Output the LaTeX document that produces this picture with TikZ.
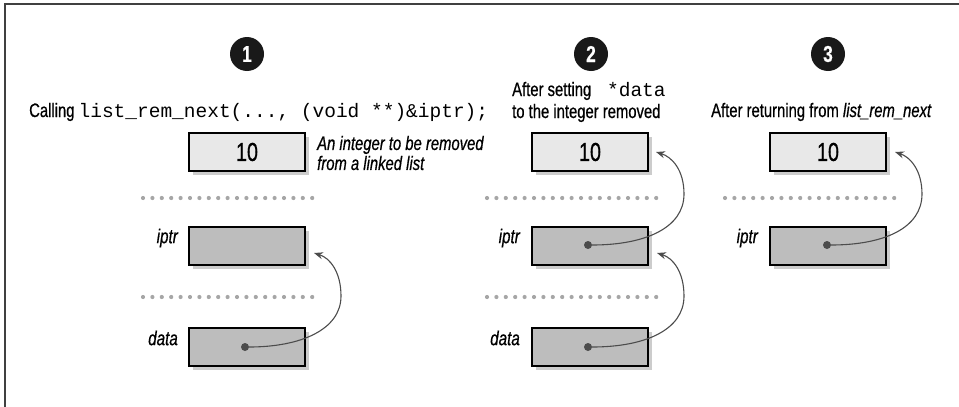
\documentclass[tikz,border=0pt]{standalone}
\usepackage{fontspec}
\setmainfont{Liberation Sans}[FakeStretch=0.76,FakeBold=0.6]
\setmonofont{Liberation Mono}
\usetikzlibrary{arrows.meta,shadows}
\begin{document}
\begin{tikzpicture}[x=1pt,y=-1pt,
  boxbase/.style={draw=black,line width=2.4pt,minimum width=116pt,minimum height=38pt,inner sep=0pt,
    drop shadow={shadow xshift=4pt,shadow yshift=-4pt,fill=black!20,opacity=1}},
  valbox/.style={boxbase,fill=black!9,font=\fontsize{26}{26}\selectfont},
  ptrbox/.style={boxbase,fill=black!26},
  seprow/.style={fill=black!35},
  lbl/.style={font=\fontsize{20}{22}\selectfont\itshape,anchor=east,inner sep=0pt},
  captxt/.style={font=\fontsize{19.5}{22}\selectfont,anchor=base west,align=left,inner sep=0pt},
  notetxt/.style={font=\fontsize{19.5}{20}\selectfont\itshape,anchor=west,align=left,inner sep=0pt},
  num/.style={circle,fill=black!90,minimum size=34pt,inner sep=0pt,text=white,font=\fontsize{23}{23}\selectfont\bfseries},
  link/.style={draw=black!70,line width=1.1pt,-{Stealth[length=9pt,width=7pt]}},
  pdot/.style={circle,fill=black!70,minimum size=8pt,inner sep=0pt}
]
\useasboundingbox (0,0) rectangle (959,407);
% frame
\draw[line width=1.5pt,black!75] (5,407) -- (5,4) -- (959,4);

% step numbers
\node[num] (n1) at (247,54) {1};
\node[num] (n2) at (591,54) {2};
\node[num] (n3) at (828,54) {3};

% captions
\node[captxt] (c1) at (29,117) {Calling \texttt{list\_rem\_next(..., (void **)\&iptr);}};
\node[captxt] (c2) at (512,118) {After setting \texttt{ *data}\\to the integer removed};
\node[captxt] (c3) at (711,117) {After returning from \textit{list\_rem\_next}};
\node[notetxt] (nt) at (317,153) {An integer to be removed\\from a linked list};

% separators
\foreach \x in {143,487,725}{
  \foreach \i in {0,...,18}{
    \fill[seprow] (\x+\i*9.4,198) circle (2.1);
  }
}
\foreach \x in {143,487}{
  \foreach \i in {0,...,18}{
    \fill[seprow] (\x+\i*9.4,297) circle (2.1);
  }
}

% panel 1
\node[valbox] (v1) at (247,152) {10};
\node[ptrbox] (p1) at (247,246) {};
\node[ptrbox] (q1) at (247,347) {};
\node[lbl] (lp1) at (178,238) {iptr};
\node[lbl] (lq1) at (178,338) {data};

% panel 2
\node[valbox] (v2) at (590,152) {10};
\node[ptrbox] (p2) at (590,246) {};
\node[ptrbox] (q2) at (590,347) {};
\node[lbl] (lp2) at (520,238) {iptr};
\node[lbl] (lq2) at (520,338) {data};

% panel 3
\node[valbox] (v3) at (828,152) {10};
\node[ptrbox] (p3) at (828,246) {};
\node[lbl] (lp3) at (758,238) {iptr};

% pointer dots
\node[pdot] (dq1) at (245,347) {};
\node[pdot] (dp2) at (588,245) {};
\node[pdot] (dq2) at (588,347) {};
\node[pdot] (dp3) at (827,245) {};

% arrow targets
\coordinate (t1) at (314,253);
\coordinate (t2a) at (656,152);
\coordinate (t2b) at (657,253);
\coordinate (t3) at (895,152);

\draw[link] (dq1) .. controls (300,347) and (341,330) .. (341,296) .. controls (341,272) and (330,258) .. (t1);
\draw[link] (dp2) .. controls (645,245) and (684,228) .. (684,194) .. controls (684,170) and (672,157) .. (t2a);
\draw[link] (dq2) .. controls (645,347) and (684,330) .. (684,296) .. controls (684,272) and (673,258) .. (t2b);
\draw[link] (dp3) .. controls (884,245) and (922,228) .. (922,194) .. controls (922,170) and (910,157) .. (t3);
\end{tikzpicture}
\end{document}
